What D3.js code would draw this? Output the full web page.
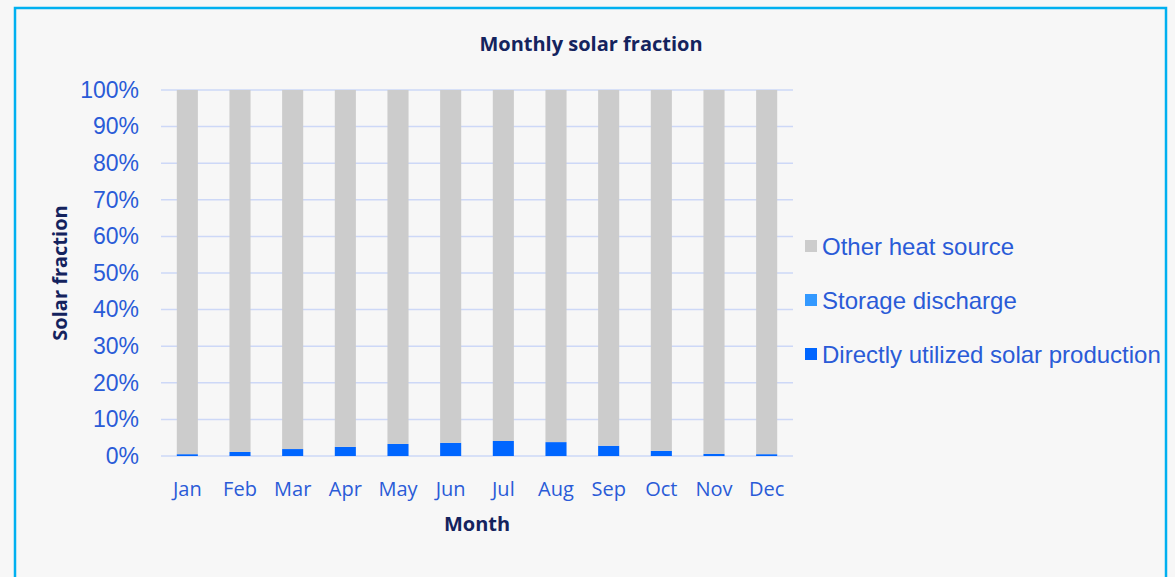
<!DOCTYPE html>
<html>
<head>
<meta charset="utf-8">
<script src="https://cdn.jsdelivr.net/npm/d3@7"></script>
<style>
  html, body { margin: 0; padding: 0; background: #f7f7f7; }
  svg { display: block; }
</style>
</head>
<body>
<div id="chart"></div>
<script>
// months on the x axis
var months = ['Jan', 'Feb', 'Mar', 'Apr', 'May', 'Jun', 'Jul', 'Aug', 'Sep', 'Oct', 'Nov', 'Dec'];
// solar fraction per month, in %
var directSolar = [0.5, 1.1, 1.9, 2.5, 3.3, 3.6, 4.1, 3.8, 2.8, 1.4, 0.6, 0.5];
var storageDischarge = [0, 0, 0, 0, 0, 0, 0, 0, 0, 0, 0, 0];
var otherHeat = directSolar.map(function(d, i) { return 100 - d - storageDischarge[i]; });
var yTicks = [0, 10, 20, 30, 40, 50, 60, 70, 80, 90, 100];

var seriesNames = ['Directly utilized solar production', 'Storage discharge', 'Other heat source'];
var seriesColors = ['#0066ff', '#3399ff', '#cccccc'];

var W = 1175, H = 577;
var margin = { left: 161, right: 382, top: 90, bottom: 121 };

var svg = d3.select('#chart').append('svg')
    .attr('width', W)
    .attr('height', H);

// chart frame
svg.append('rect')
    .attr('x', 15).attr('y', 8)
    .attr('width', 1151).attr('height', 600)
    .attr('fill', '#f7f7f7')
    .attr('stroke', '#00b0f0')
    .attr('stroke-width', 2.5);

var x = d3.scaleBand()
    .domain(months)
    .range([margin.left, W - margin.right])
    .paddingInner(0.6)
    .paddingOuter(0.3);

var y = d3.scaleLinear()
    .domain([0, 100])
    .range([H - margin.bottom, margin.top]);

// gridlines
svg.append('g')
    .selectAll('line')
    .data(yTicks)
    .enter().append('line')
    .attr('x1', margin.left)
    .attr('x2', W - margin.right)
    .attr('y1', function(d) { return y(d); })
    .attr('y2', function(d) { return y(d); })
    .attr('stroke', '#cdd8f7')
    .attr('stroke-width', 1.5);

// stacked bars
var rows = months.map(function(m, i) {
    return { month: m, direct: directSolar[i], storage: storageDischarge[i], other: otherHeat[i] };
});
var stack = d3.stack().keys(['direct', 'storage', 'other'])(rows);

svg.append('g')
    .selectAll('g')
    .data(stack)
    .enter().append('g')
    .attr('fill', function(d, i) { return seriesColors[i]; })
    .selectAll('rect')
    .data(function(d) { return d; })
    .enter().append('rect')
    .attr('x', function(d) { return x(d.data.month); })
    .attr('width', x.bandwidth())
    .attr('y', function(d) { return y(d[1]); })
    .attr('height', function(d) { return Math.max(0, y(d[0]) - y(d[1])); });

// y axis labels
var yAxis = svg.append('g')
    .attr('transform', 'translate(' + (margin.left - 22) + ',0)')
    .call(d3.axisLeft(y).tickValues(yTicks).tickSize(0).tickPadding(0)
        .tickFormat(function(d) { return d + '%'; }));
yAxis.select('.domain').remove();
yAxis.selectAll('text')
    .attr('fill', '#2a5bd7')
    .style('font-family', '"Liberation Sans", Arial, sans-serif')
    .style('font-size', '23px');

// x axis labels
var xAxis = svg.append('g')
    .attr('transform', 'translate(0,' + (H - margin.bottom) + ')')
    .call(d3.axisBottom(x).tickSize(0).tickPadding(26));
xAxis.select('.domain').remove();
xAxis.selectAll('text')
    .attr('fill', '#2a5bd7')
    .style('font-family', '"Open Sans", "Noto Sans", sans-serif')
    .style('font-size', '20px');

// titles
svg.append('text')
    .attr('x', 591).attr('y', 51)
    .attr('text-anchor', 'middle')
    .attr('fill', '#14235e')
    .style('font-family', '"Open Sans", "Noto Sans", sans-serif')
    .style('font-weight', 'bold')
    .style('font-size', '20px')
    .text('Monthly solar fraction');

svg.append('text')
    .attr('x', 477).attr('y', 531)
    .attr('text-anchor', 'middle')
    .attr('fill', '#14235e')
    .style('font-family', '"Open Sans", "Noto Sans", sans-serif')
    .style('font-weight', 'bold')
    .style('font-size', '20px')
    .text('Month');

svg.append('text')
    .attr('transform', 'translate(67,273) rotate(-90)')
    .attr('text-anchor', 'middle')
    .attr('fill', '#14235e')
    .style('font-family', '"Open Sans", "Noto Sans", sans-serif')
    .style('font-weight', 'bold')
    .style('font-size', '20px')
    .text('Solar fraction');

// legend, top entry is the top of the stack
var legendOrder = [2, 1, 0];
var legend = svg.append('g')
    .selectAll('g')
    .data(legendOrder)
    .enter().append('g')
    .attr('transform', function(d, i) { return 'translate(805,' + (246 + i * 54) + ')'; });

legend.append('rect')
    .attr('x', 0).attr('y', -6)
    .attr('width', 12).attr('height', 12)
    .attr('fill', function(d) { return seriesColors[d]; });

legend.append('text')
    .attr('x', 17).attr('y', 8.5)
    .attr('fill', '#2a5bd7')
    .style('font-family', '"Liberation Sans", Arial, sans-serif')
    .style('font-size', '24px')
    .text(function(d) { return seriesNames[d]; });
</script>
</body>
</html>
